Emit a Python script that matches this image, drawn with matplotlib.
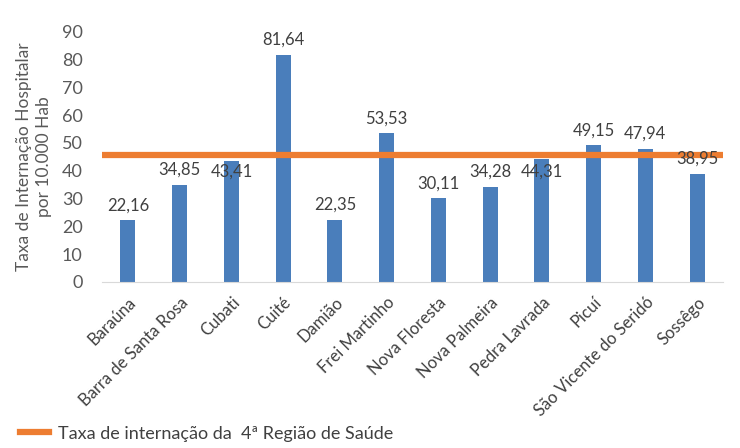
import matplotlib
matplotlib.use("Agg")
import matplotlib.pyplot as plt
import numpy as np

# dados do gráfico
municipios = ["Baraúna", "Barra de Santa Rosa", "Cubati", "Cuité", "Damião",
              "Frei Martinho", "Nova Floresta", "Nova Palmeira", "Pedra Lavrada",
              "Picuí", "São Vicente do Seridó", "Sossêgo"]
taxas = [22.16, 34.85, 43.41, 81.64, 22.35, 53.53, 30.11, 34.28, 44.31, 49.15, 47.94, 38.95]
taxa_regiao = 45.5

plt.rcParams["font.family"] = ["Lato", "DejaVu Sans"]

fig = plt.figure(figsize=(7.4, 4.48), dpi=100)
ax = fig.add_axes([0.138, 0.371, 0.839, 0.558])

x = np.arange(len(municipios))
ax.bar(x, taxas, width=0.29, color="#4a7ebb", zorder=2)
ax.axhline(taxa_regiao, color="#ed7d31", lw=4.5, zorder=3,
           label="Taxa de internação da  4ª Região de Saúde")

for xi, v in zip(x, taxas):
    txt = f"{v:.2f}".replace(".", ",")
    if taxa_regiao - 6 < v < taxa_regiao:
        # rótulos que bateriam na linha ficam logo abaixo dela
        ax.text(xi, taxa_regiao - 6, txt, ha="center", va="center",
                fontsize=12, color="#404040", zorder=4)
    else:
        ax.annotate(txt, (xi, v), xytext=(0, 5), textcoords="offset points",
                    ha="center", va="bottom", fontsize=12, color="#404040", zorder=4)

ax.set_xlim(-0.5, len(municipios) - 0.5)
ax.set_ylim(0, 90)
ax.set_yticks(range(0, 91, 10))
ax.set_xticks(x)
ax.set_xticklabels(municipios, rotation=45, ha="right", rotation_mode="anchor",
                   fontsize=12, color="#404040")
ax.tick_params(axis="y", labelsize=13, colors="#595959", length=0, pad=14)
ax.tick_params(axis="x", length=0, pad=9)
ax.set_ylabel("Taxa de Internação Hospitalar\npor 10.000 Hab", fontsize=12.5,
              color="#595959", labelpad=7, linespacing=1.35)

for s in ["top", "right", "left"]:
    ax.spines[s].set_visible(False)
ax.spines["bottom"].set_color("#d9d9d9")

fig.legend(loc="lower left", bbox_to_anchor=(0.005, -0.022), frameon=False,
           fontsize=13, handlelength=1.6, handletextpad=0.5, labelcolor="#404040")

plt.savefig("out.png", dpi=100)
